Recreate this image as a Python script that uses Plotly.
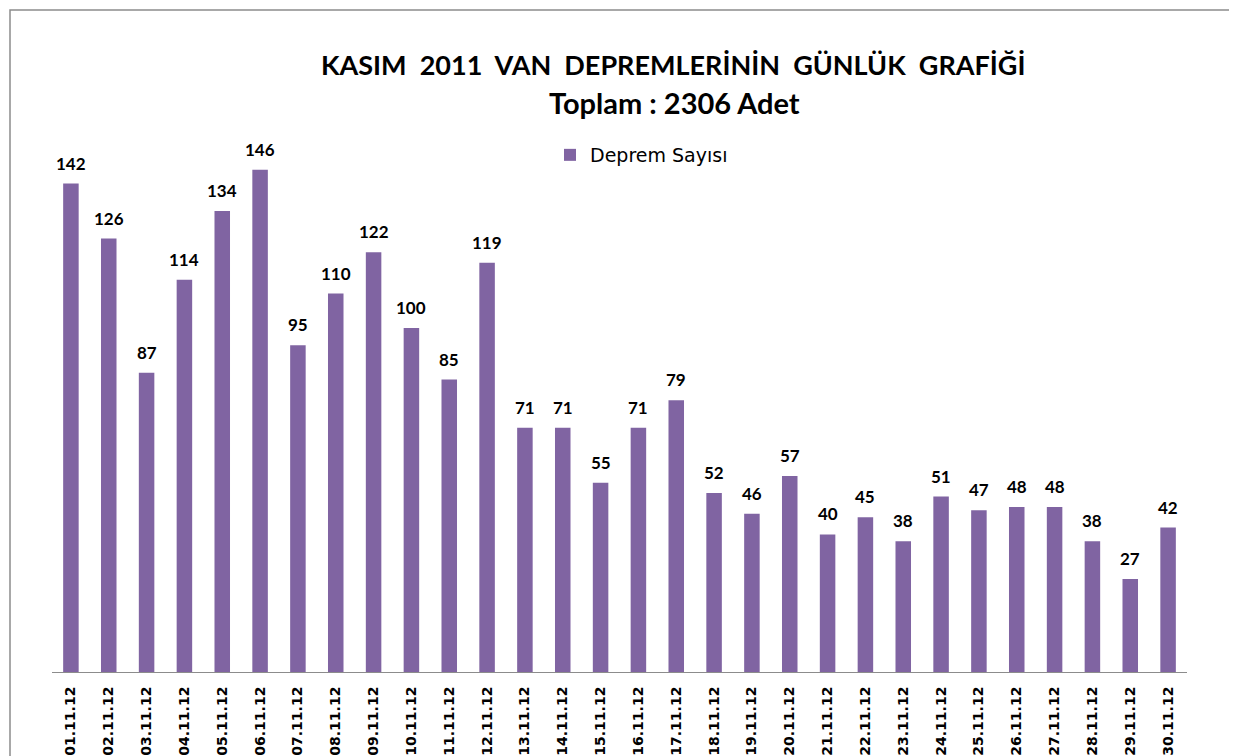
import plotly.graph_objects as go

dates = [f"{d:02d}.11.12" for d in range(1, 31)]
counts = [142, 126, 87, 114, 134, 146, 95, 110, 122, 100, 85, 119, 71, 71, 55,
          71, 79, 52, 46, 57, 40, 45, 38, 51, 47, 48, 48, 38, 27, 42]

BAR = "#8064A2"
NB = "\u00a0"

# page offset of the plot div (body margin)
OFF = 8
L, R, T, B = 52 - OFF, 1237 - (1187 - OFF), 100 - OFF, 756 - (672 - OFF)
plot_h = 756 - T - B
ymax = plot_h / 3.44


def px(x):
    return (x - 52) / 1135


def py(y):
    return (672 - y) / plot_h


fig = go.Figure()
fig.add_trace(go.Bar(
    x=dates, y=counts, name="Deprem Sayısı",
    marker=dict(color=BAR, line=dict(width=0)),
))

annotations = [
    dict(x=d, y=c, xref="x", yref="y", text=f"<b>{c}</b>", showarrow=False,
         xanchor="center", yanchor="bottom", yshift=8,
         font=dict(family="Lato", size=17, color="black"))
    for d, c in zip(dates, counts)
]
annotations += [
    dict(text=f"<b>KASIM{NB}{NB}2011{NB}{NB}VAN{NB}{NB}DEPREMLERİNİN{NB}{NB}GÜNLÜK{NB}{NB}GRAFİĞİ</b>",
         x=px(673), y=py(65), xref="paper", yref="paper", showarrow=False,
         xanchor="center", yanchor="middle",
         font=dict(family="Lato", size=27, color="black")),
    dict(text="<b>Toplam : 2306 Adet</b>", x=px(674), y=py(102),
         xref="paper", yref="paper", showarrow=False, xanchor="center", yanchor="middle",
         font=dict(family="Lato", size=29, color="black")),
]

fig.update_layout(
    width=1237, height=756,
    margin=dict(l=L, r=R, t=T, b=B, autoexpand=False),
    paper_bgcolor="white", plot_bgcolor="white",
    bargap=0.59,
    showlegend=True,
    legend=dict(orientation="h", x=px(550), y=py(155), xanchor="left", yanchor="middle",
                font=dict(family="DejaVu Sans", size=19, color="black"),
                bgcolor="rgba(0,0,0,0)"),
    xaxis=dict(showline=True, linecolor="#8c8c8c", linewidth=1,
               ticks="outside", ticklen=8, tickcolor="rgba(0,0,0,0)",
               tickangle=-90, automargin=False,
               tickfont=dict(family="DejaVu Sans", size=14, color="black", weight="bold"),
               showgrid=False, fixedrange=True),
    yaxis=dict(range=[0, ymax], visible=False, showgrid=False, automargin=False),
    annotations=annotations,
    shapes=[dict(type="rect", xref="paper", yref="paper",
                 x0=px(10), x1=px(1232), y0=py(800), y1=py(10),
                 line=dict(color="#8c8c8c", width=1.5), fillcolor="rgba(0,0,0,0)", layer="above")],
)

fig.write_html("out.html")
